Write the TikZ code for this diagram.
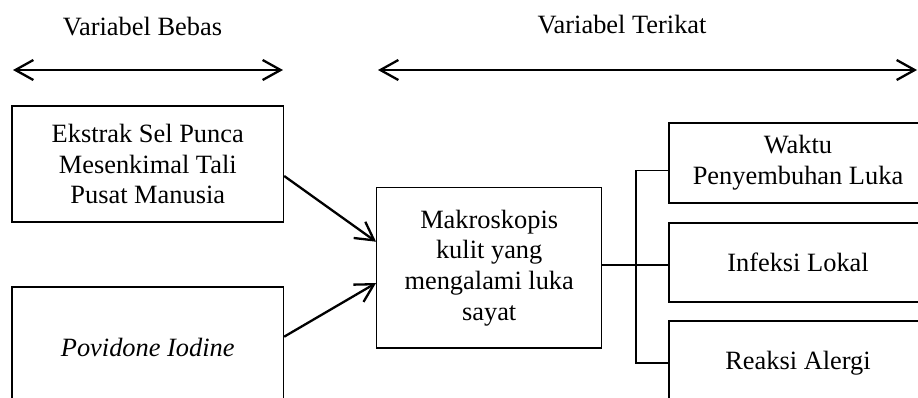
\documentclass[tikz,border=0pt]{standalone}
\usepackage{fontspec}
\setmainfont{Liberation Serif}
\usetikzlibrary{arrows.meta}
\tikzset{
  box/.style={draw, line width=1.3pt, rectangle, inner sep=0pt, align=center, font=\fontsize{26.4}{30.7}\selectfont},
  lbl/.style={inner sep=0pt, font=\fontsize{26.4}{30.7}\selectfont},
  arr/.style={line width=2.3pt, -{Straight Barb[length=18pt,width=20pt,line width=2.3pt]}},
  darr/.style={line width=2.3pt, {Straight Barb[length=18pt,width=20pt,line width=2.3pt]}-{Straight Barb[length=18pt,width=20pt,line width=2.3pt]}},
  link/.style={line width=1.3pt}
}
\begin{document}
\begin{tikzpicture}[x=1pt,y=-1pt]
\useasboundingbox (0,0) rectangle (918,397);
\clip (0,0) rectangle (918,397);
% labels
\node[lbl] (lb) at (142.5,27) {Variabel Bebas};
\node[lbl] (lt) at (622,25) {Variabel Terikat};
% range arrows
\coordinate (a1) at (13,70);
\coordinate (a2) at (283,70);
\coordinate (a3) at (378,70);
\coordinate (a4) at (917,70);
\draw[darr] (a1) -- (a2);
\draw[darr] (a3) -- (a4);
% boxes
\node[box, minimum width=271.5pt, minimum height=116pt] (ek) at (147.75,164) {Ekstrak Sel Punca\\Mesenkimal Tali\\Pusat Manusia};
\node[box, minimum width=271.5pt, minimum height=120pt] (pv) at (147.75,347) {\itshape Povidone Iodine};
\node[box, minimum width=225pt, minimum height=160.5pt] (mk) at (489.2,267.8) {Makroskopis\\kulit yang\\mengalami luka\\sayat};
\node[box, minimum width=258pt, minimum height=80pt] (wk) at (798,163) {Waktu\\Penyembuhan Luka};
\node[box, minimum width=258pt, minimum height=79pt] (in) at (798,262.5) {Infeksi Lokal};
\node[box, minimum width=258pt, minimum height=84pt] (ra) at (798,363) {Reaksi Alergi};
% connectors to middle
\draw[arr] (ek.east |- 0,176) -- (mk.west |- 0,241.7);
\draw[arr] (pv.east |- 0,336.7) -- (mk.west |- 0,283);
% bracket
\coordinate (bt) at (636,170.7);
\coordinate (bm) at (636,265);
\coordinate (bb) at (636,363);
\draw[link] (wk.west |- bt) -- (bt) -- (bb) -- (ra.west |- bb);
\draw[link] (mk.east |- bm) -- (in.west |- bm);
\end{tikzpicture}
\end{document}
